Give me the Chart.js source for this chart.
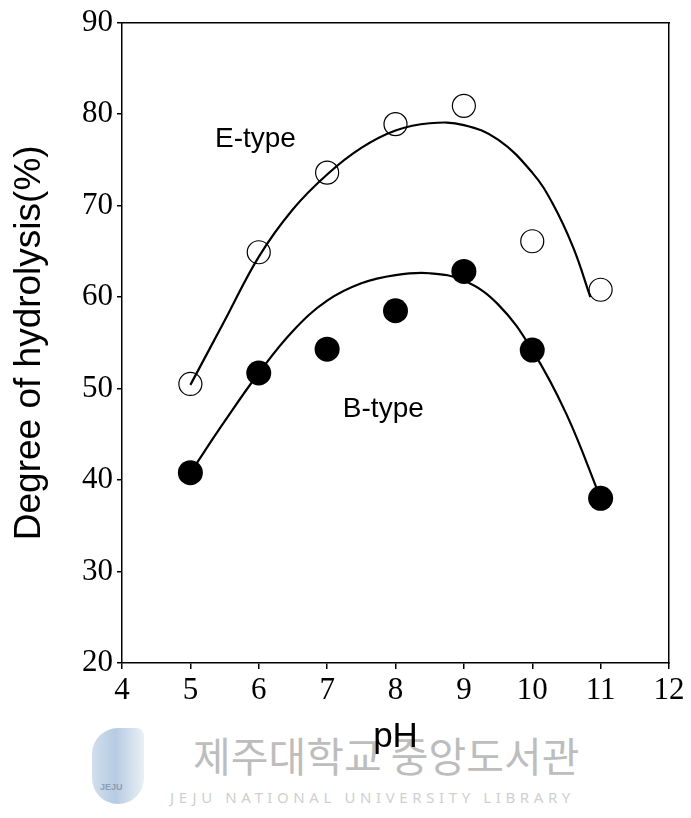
<!DOCTYPE html>
<html>
<head>
<meta charset="utf-8">
<script src="https://cdn.jsdelivr.net/npm/chart.js@4/dist/chart.umd.min.js"></script>
<style>
  html, body { margin:0; padding:0; background:#fff; }
  #wrap { position:relative; width:691px; height:818px; overflow:hidden; }
  #c { position:absolute; left:0; top:0; z-index:2; }
  .wm { position:absolute; z-index:1; white-space:nowrap; }
  #wmKo { left:193px; top:724px; font-family:"Noto Sans CJK KR"; font-size:41px; color:#bdbdbd; }
  #wmEn { left:170px; top:787px; font-family:"Noto Sans","Liberation Sans"; font-size:15px; color:#cfcfcf; letter-spacing:4.6px; }
  #logo { left:92px; top:728px; width:52px; height:76px; border-radius:26px 8px 26px 26px;
          background:linear-gradient(90deg,#c9d9ea 0%,#a9c2dd 45%,#e6edf4 100%); opacity:0.85; }
  #logoTxt { left:100px; top:782px; font-family:"Liberation Sans"; font-size:9px; color:#8f9fb0; font-weight:bold; }
</style>
</head>
<body>
<div id="wrap">
  <div class="wm" id="logo"></div>
  <div class="wm" id="logoTxt">JEJU</div>
  <div class="wm" id="wmKo">제주대학교 중앙도서관</div>
  <div class="wm" id="wmEn">JEJU NATIONAL UNIVERSITY  LIBRARY</div>
  <canvas id="c" width="691" height="818"></canvas>
</div>
<script>
// ---- data ----
const pH        = [5, 6, 7, 8, 9, 10, 11];
const eType     = [50.5, 64.9, 73.6, 78.9, 80.9, 66.1, 60.8];
const bType     = [40.8, 51.7, 54.3, 58.5, 62.8, 54.2, 38.0];

// fitted curves
const eCurvePH  = [5, 5.5, 6, 6.5, 7, 7.5, 8, 8.5, 9, 9.5, 10, 10.3, 10.6, 10.85];
const eCurveVal = [50.4, 57.4, 64.4, 69.6, 73.4, 76.3, 78.2, 79.0, 78.8, 77.2, 73.6, 70.2, 65.4, 60.0];
const bCurvePH  = [5, 5.5, 6, 6.5, 7, 7.5, 8, 8.5, 9, 9.5, 10, 10.5, 11];
const bCurveVal = [40.8, 46.4, 51.7, 56.3, 59.6, 61.5, 62.4, 62.6, 61.8, 59.2, 54.2, 47.2, 38.0];

const xTicks = [4, 5, 6, 7, 8, 9, 10, 11, 12];
const yTicks = [20, 30, 40, 50, 60, 70, 80, 90];

const seriesLabels = ['E-type', 'B-type'];
const labelPH  = [5.36, 7.23];
const labelVal = [76.35, 46.9];

const xy = (xs, ys) => xs.map((x, i) => ({x, y: ys[i]}));

const labelPlugin = {
  id: 'seriesLabels',
  afterDatasetsDraw(chart) {
    const {ctx, scales: {x, y}} = chart;
    ctx.save();
    ctx.fillStyle = '#000';
    ctx.font = '28px "Liberation Sans"';
    ctx.textAlign = 'left';
    ctx.textBaseline = 'alphabetic';
    seriesLabels.forEach((t, i) => {
      ctx.fillText(t, x.getPixelForValue(labelPH[i]), y.getPixelForValue(labelVal[i]));
    });
    ctx.restore();
  }
};

const tickFont = {family: '"Liberation Serif"', size: 31};
const titleFont = {family: '"Liberation Sans"'};

new Chart(document.getElementById('c'), {
  type: 'scatter',
  data: {
    datasets: [
      { data: xy(pH, bType), pointRadius: 12.5, pointBackgroundColor: '#000', pointBorderColor: '#000', pointBorderWidth: 0, showLine: false },
      { data: xy(pH, eType), pointRadius: 11.5, pointBackgroundColor: 'rgba(0,0,0,0)', pointBorderColor: '#000', pointBorderWidth: 1.2, showLine: false },
      { type: 'line', data: xy(eCurvePH, eCurveVal), borderColor: '#000', borderWidth: 2.2, pointRadius: 0, fill: false, tension: 0.4 },
      { type: 'line', data: xy(bCurvePH, bCurveVal), borderColor: '#000', borderWidth: 2.2, pointRadius: 0, fill: false, tension: 0.4 }
    ]
  },
  options: {
    responsive: false,
    animation: false,
    events: [],
    layout: { padding: { top: 22, right: 22, left: 0, bottom: 0 } },
    plugins: { legend: { display: false }, tooltip: { enabled: false } },
    scales: {
      x: {
        type: 'linear', position: 'bottom', min: 4, max: 12,
        afterBuildTicks: s => { s.ticks = xTicks.map(v => ({value: v})); },
        ticks: { font: tickFont, color: '#000', padding: 3, maxRotation: 0, autoSkip: false },
        grid: { display: true, drawOnChartArea: false, drawTicks: true, tickLength: 6, color: '#000', lineWidth: 1.5 },
        border: { display: true, color: '#000', width: 1.5 },
        title: { display: true, text: 'pH', color: '#000', font: {...titleFont, size: 35}, padding: { top: 0, bottom: 60 } },
        afterFit: s => { s.height = 155; }
      },
      y: {
        type: 'linear', position: 'left', min: 20, max: 90,
        afterBuildTicks: s => { s.ticks = yTicks.map(v => ({value: v})); },
        ticks: { font: tickFont, color: '#000', padding: 4 },
        grid: { display: true, drawOnChartArea: false, drawTicks: true, tickLength: 5, color: '#000', lineWidth: 1.5 },
        border: { display: true, color: '#000', width: 1.5 },
        title: { display: true, text: 'Degree of hydrolysis(%)', color: '#000', font: {...titleFont, size: 37}, padding: { top: 8, bottom: 0 } },
        afterFit: s => { s.width = 122; }
      },
      x2: {
        type: 'linear', position: 'top', min: 4, max: 12,
        ticks: { display: false }, grid: { display: false },
        border: { display: true, color: '#000', width: 1.5 },
        afterFit: s => { s.height = 0; }
      },
      y2: {
        type: 'linear', position: 'right', min: 20, max: 90,
        ticks: { display: false }, grid: { display: false },
        border: { display: true, color: '#000', width: 1.5 },
        afterFit: s => { s.width = 0; }
      }
    }
  },
  plugins: [labelPlugin]
});
</script>
</body>
</html>
